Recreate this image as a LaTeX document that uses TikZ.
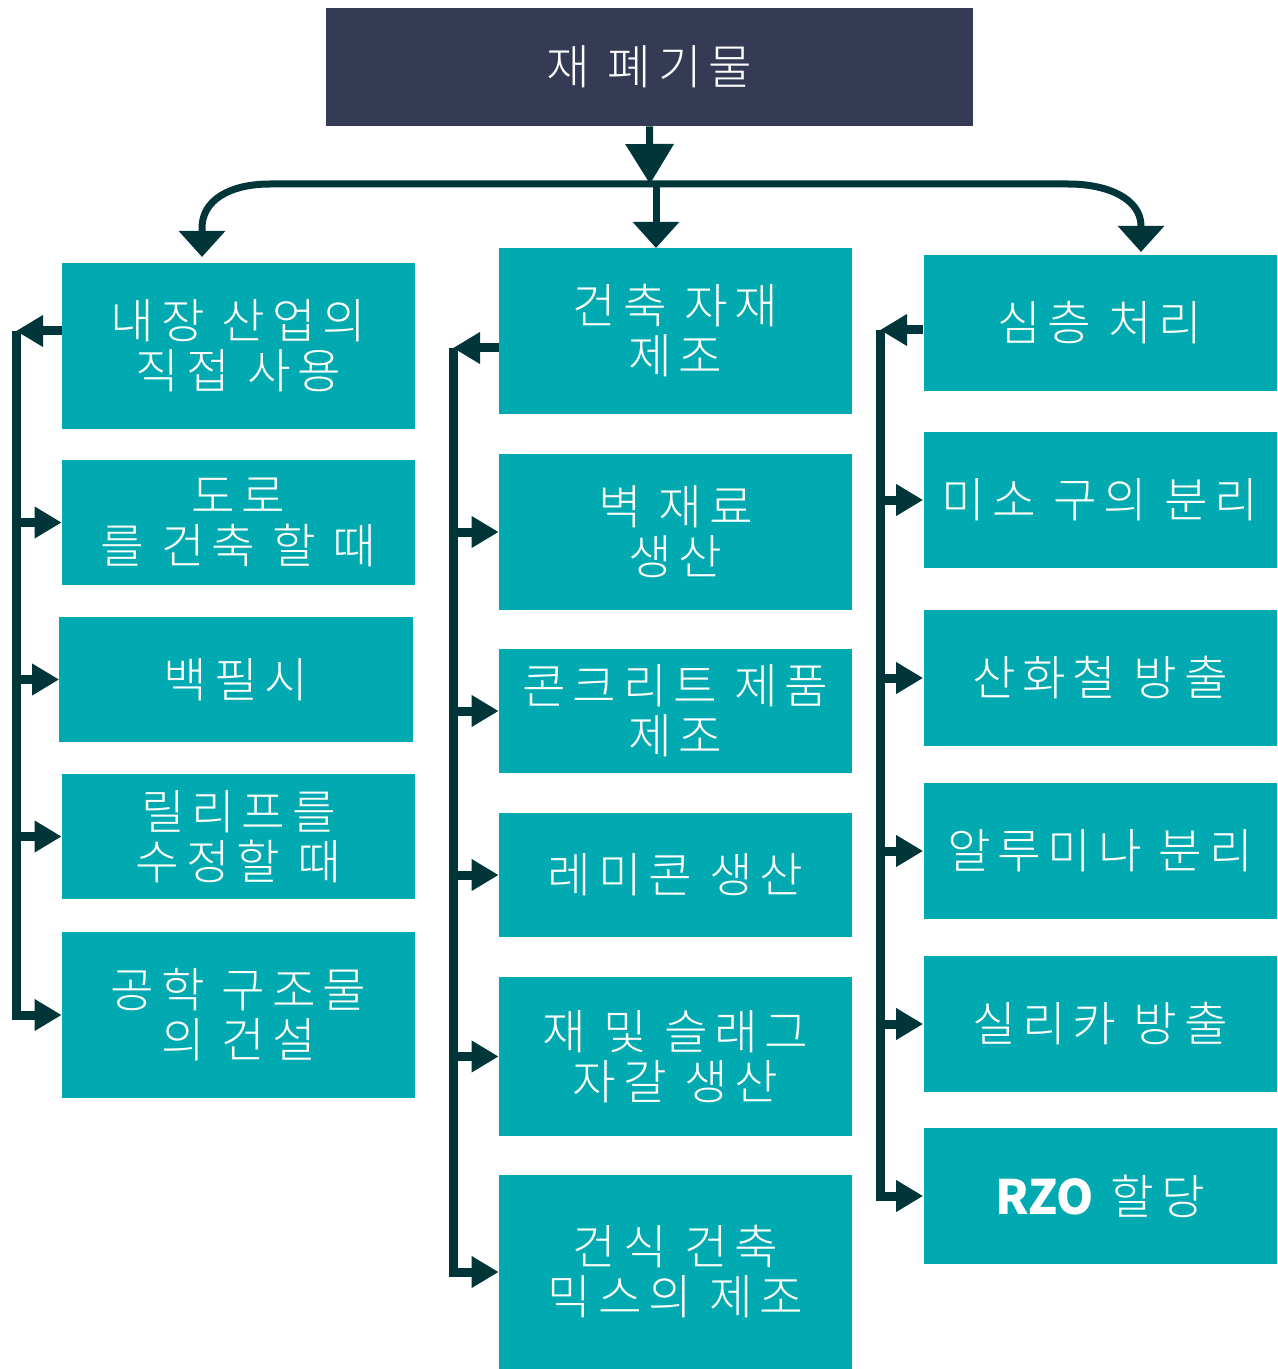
\documentclass[tikz,border=0pt]{standalone}
\usepackage{fontspec}
\IfFontExistsTF{Noto Sans CJK KR Light}
  {\setmainfont{Noto Sans CJK KR Light}[LetterSpace=14]}
  {\setmainfont{Noto Sans CJK KR}[LetterSpace=14]}
\newfontfamily\rzofont{Noto Sans CJK KR}
\usetikzlibrary{arrows.meta}

\definecolor{boxteal}{HTML}{00AAB0}
\definecolor{topslate}{HTML}{363B55}
\definecolor{linkdark}{HTML}{00363A}

\begin{document}
\begin{tikzpicture}[x=0.2mm,y=-0.2mm,>={Triangle[length=5.4mm,width=6mm]},
  box/.style={fill=boxteal,text=white,minimum width=70.6mm,align=center,inner sep=0pt,
    font=\fontsize{27}{28.5}\selectfont},
  link/.style={draw=linkdark,line width=1.8mm},
  toplink/.style={draw=linkdark,line width=1.4mm,-{Triangle[length=5.2mm,width=9mm]}}]
\useasboundingbox (0,0) rectangle (1278,1369);

\node[fill=topslate,text=white,minimum width=129.4mm,minimum height=23.6mm,
  font=\fontsize{27}{28.5}\selectfont] (W) at (649.5,67) {재 폐기물};

% left column
\node[box,minimum height=33.2mm] (L1) at (238.5,346) {내장 산업의\\직접 사용};
\node[box,minimum height=25mm] (L2) at (238.5,522.5) {도로\\를 건축 할 때};
\node[box,minimum height=25mm] (L3) at (236,679.5) {백필시};
\node[box,minimum height=25mm] (L4) at (238.5,836.5) {릴리프를\\수정할 때};
\node[box,minimum height=33.2mm] (L5) at (238.5,1015) {공학 구조물\\의 건설};

% middle column
\node[box,minimum height=33.2mm] (M1) at (675.5,331) {건축 자재\\제조};
\node[box,minimum height=31.2mm] (M2) at (675.5,532) {벽 재료\\생산};
\node[box,minimum height=24.8mm] (M3) at (675.5,711) {콘크리트 제품\\제조};
\node[box,minimum height=24.8mm] (M4) at (675.5,875) {레미콘 생산};
\node[box,minimum height=31.8mm] (M5) at (675.5,1056.5) {재 및 슬래그\\자갈 생산};
\node[box,minimum height=38.8mm] (M6) at (675.5,1272) {건식 건축\\믹스의 제조};

% right column
\node[box,minimum height=27.2mm] (R1) at (1100,323) {심층 처리};
\node[box,minimum height=27.2mm] (R2) at (1100,500) {미소 구의 분리};
\node[box,minimum height=27.2mm] (R3) at (1100,678) {산화철 방출};
\node[box,minimum height=27.2mm] (R4) at (1100,851) {알루미나 분리};
\node[box,minimum height=27.2mm] (R5) at (1100,1024) {실리카 방출};
\node[box,minimum height=27.2mm] (R6) at (1100,1196) {{\rzofont\bfseries RZO} 할당};

% split under the top box
\coordinate (hub) at (650,184);
\coordinate (lt) at (202,257);
\coordinate (mt) at (656,248);
\coordinate (rt) at (1141,252);
\draw[link,line width=1.4mm,-{Triangle[length=8mm,width=9.4mm]}] (W.south) -- (hub);
\draw[toplink] (hub) -- (270,184) .. controls (230,184) and (202,200) .. (202,228) -- (lt);
\draw[toplink] (hub -| mt) -- (mt);
\draw[toplink] (hub) -- (1068,184) .. controls (1110,184) and (1141,200) .. (1141,226) -- (rt);

% left rail
\coordinate (l0) at (16,331);
\draw[link,->] (L1.west |- l0) -- (l0);
\draw[link,->] (l0) |- (L5.west);
\foreach \n in {L2,L3,L4} \draw[link,->] (l0 |- \n.west) -- (\n.west);

% middle rail
\coordinate (m0) at (453,348);
\draw[link,->] (M1.west |- m0) -- (m0);
\draw[link,->] (m0) |- (M6.west);
\foreach \n in {M2,M3,M4,M5} \draw[link,->] (m0 |- \n.west) -- (\n.west);

% right rail
\coordinate (r0) at (880,330);
\draw[link,->] (R1.west |- r0) -- (r0);
\draw[link,->] (r0) |- (R6.west);
\foreach \n in {R2,R3,R4,R5} \draw[link,->] (r0 |- \n.west) -- (\n.west);
\end{tikzpicture}
\end{document}
